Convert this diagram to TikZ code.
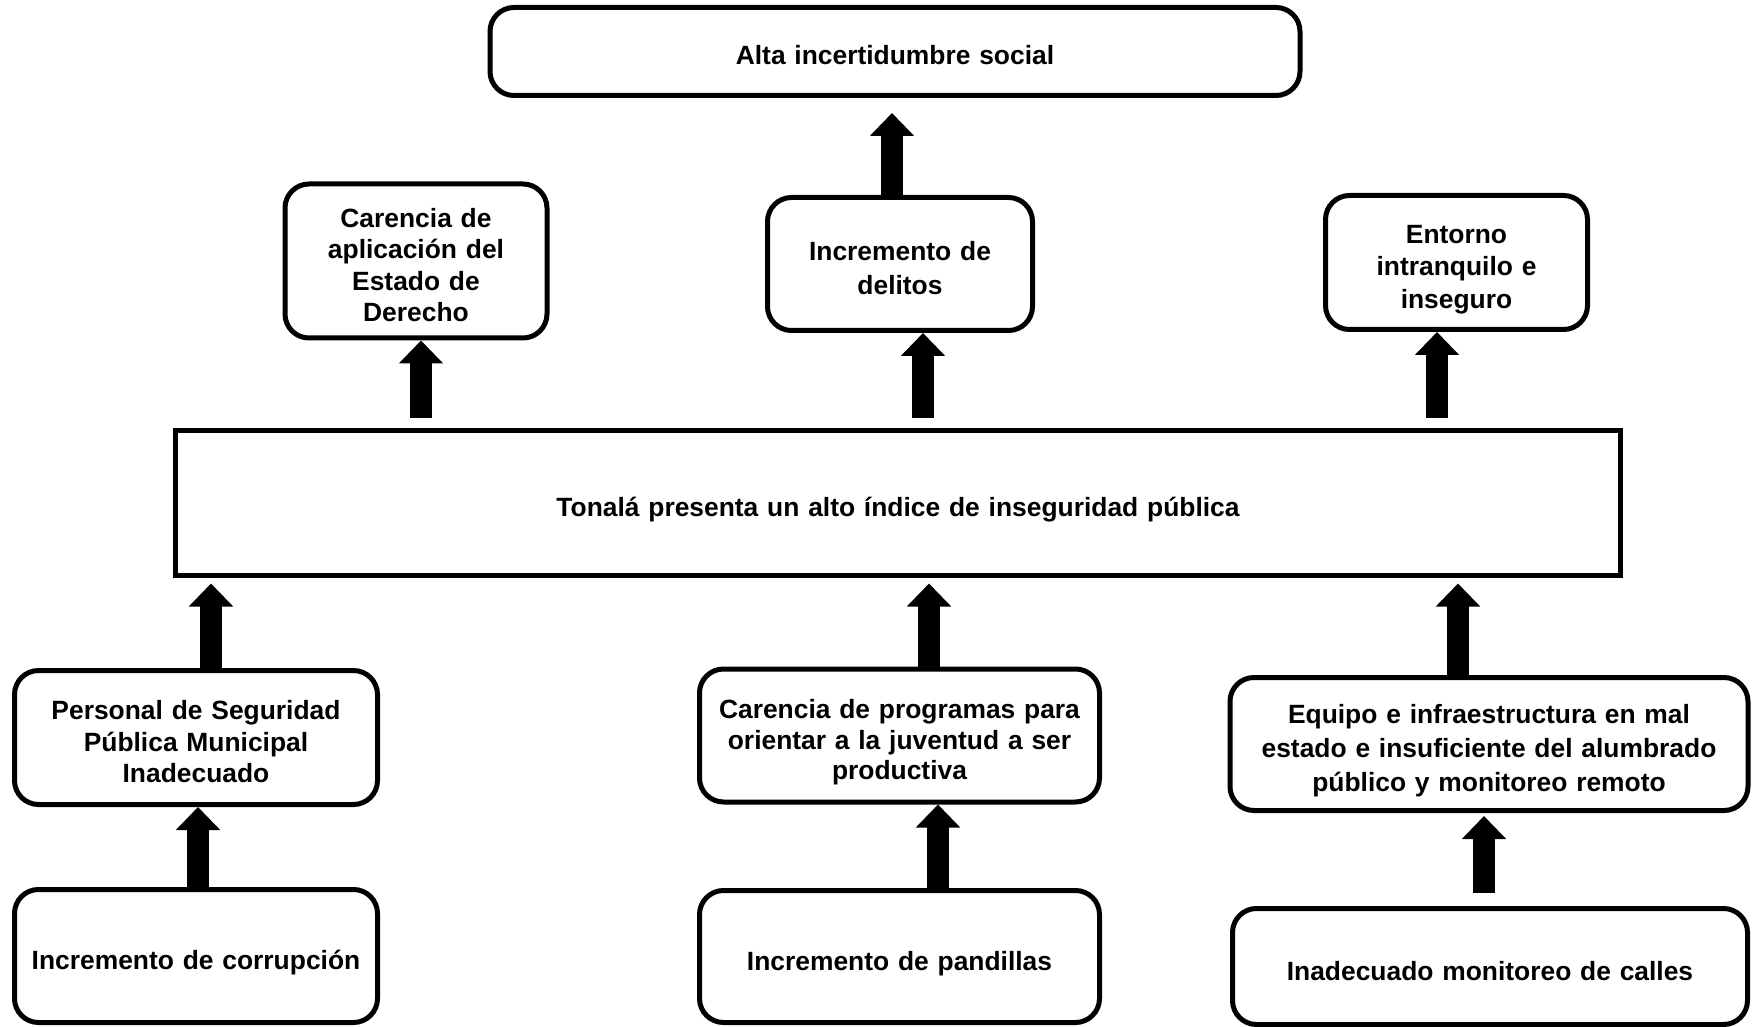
\documentclass[tikz,border=0pt]{standalone}
\usepackage{fontspec}
\setmainfont{Liberation Sans}
\usetikzlibrary{arrows.meta}

\tikzset{
  caja/.style 2 args={draw, line width=2.5pt, rounded corners=12pt, align=center, inner sep=0pt,
    minimum width=#1, text width=#1-6pt, minimum height=#2,
    font=\bfseries\fontsize{13.2}{15.6}\selectfont,
    execute at begin node={\rule[-3pt]{0pt}{19.5pt}},
    execute at end node={\rule[-3pt]{0pt}{3pt}}},
  flecha/.style={line width=11pt, -{Triangle[width=21.5pt,length=11.5pt]}}
}

\begin{document}
\begin{tikzpicture}[x=0.5pt, y=-0.5pt]
\useasboundingbox (0,0) rectangle (1753,1027);
%efectos
    \node[caja={405pt}{44pt}] (alta) at (895,51.5) {Alta incertidumbre social};
    \node[caja={131pt}{77pt}] (cA) at (416,261) {Carencia de\\aplicación del\\Estado de\\Derecho};
    \node[caja={132.5pt}{66.5pt}, font=\bfseries\fontsize{13.2}{17.3}\selectfont] (cB) at (900,264) {Incremento de\\delitos};
    \node[caja={131pt}{67pt}, font=\bfseries\fontsize{13.2}{16.2}\selectfont] (cC) at (1456.5,262.5) {Entorno\\intranquilo e\\inseguro};
%problema central
    \node[caja={722.5pt}{72pt}, sharp corners] (main) at (898,503) {Tonalá presenta un alto índice de inseguridad pública};
%causas
    \node[caja={181.5pt}{67pt}] (pA) at (196,737.5) {Personal de Seguridad\\Pública Municipal\\Inadecuado};
    \node[caja={200pt}{66.5pt}, font=\bfseries\fontsize{13.2}{15.4}\selectfont] (pB) at (899.5,735.5) {Carencia de programas para\\orientar a la juventud a ser\\productiva};
    \node[caja={259pt}{66.5pt}, font=\bfseries\fontsize{13.2}{16.8}\selectfont] (pC) at (1489,744) {Equipo e infraestructura en mal\\estado e insuficiente del alumbrado\\público y monitoreo remoto};
    \node[caja={181.5pt}{66.5pt}] (bA) at (196,956) {Incremento de corrupción};
    \node[caja={200pt}{66pt}] (bB) at (899.5,956.5) {Incremento de pandillas};
    \node[caja={257.5pt}{58pt}] (bC) at (1490,966.5) {Inadecuado monitoreo de calles};

%flechas hacia arriba
    \coordinate (fAlta) at ([xshift=-4pt]cB.north);
    \draw[flecha, shorten >=7.5pt] (fAlta) -- (alta.south -| fAlta); %cB a alta
    \coordinate (fcA) at ([xshift=2.5pt]cA.south);
    \draw[flecha, shorten <=5pt] (main.north -| fcA) -- (fcA); %main a cA
    \coordinate (fcB) at ([xshift=11.5pt]cB.south);
    \draw[flecha, shorten <=5pt] (main.north -| fcB) -- (fcB); %main a cB
    \coordinate (fcC) at ([xshift=-9.75pt]cC.south);
    \draw[flecha, shorten <=5pt] (main.north -| fcC) -- (fcC); %main a cC

    \coordinate (fpA) at ([xshift=7.5pt]pA.north);
    \draw[flecha, shorten >=3pt] (fpA) -- (main.south -| fpA); %pA a main
    \coordinate (fpB) at ([xshift=14.75pt]pB.north);
    \draw[flecha, shorten >=3pt] (fpB) -- (main.south -| fpB); %pB a main
    \coordinate (fpC) at ([xshift=-15.5pt]pC.north);
    \draw[flecha, shorten >=3pt] (fpC) -- (main.south -| fpC); %pC a main

    \coordinate (fbA) at ([xshift=1pt]bA.north);
    \draw[flecha] (fbA) -- (pA.south -| fbA); %bA a pA
    \coordinate (fbB) at ([xshift=19.25pt]bB.north);
    \draw[flecha] (fbB) -- (pB.south -| fbB); %bB a pB
    \coordinate (fbC) at ([xshift=-3pt]bC.north);
    \draw[flecha, shorten <=6.5pt, shorten >=1.5pt] (fbC) -- (pC.south -| fbC); %bC a pC
\end{tikzpicture}
\end{document}
